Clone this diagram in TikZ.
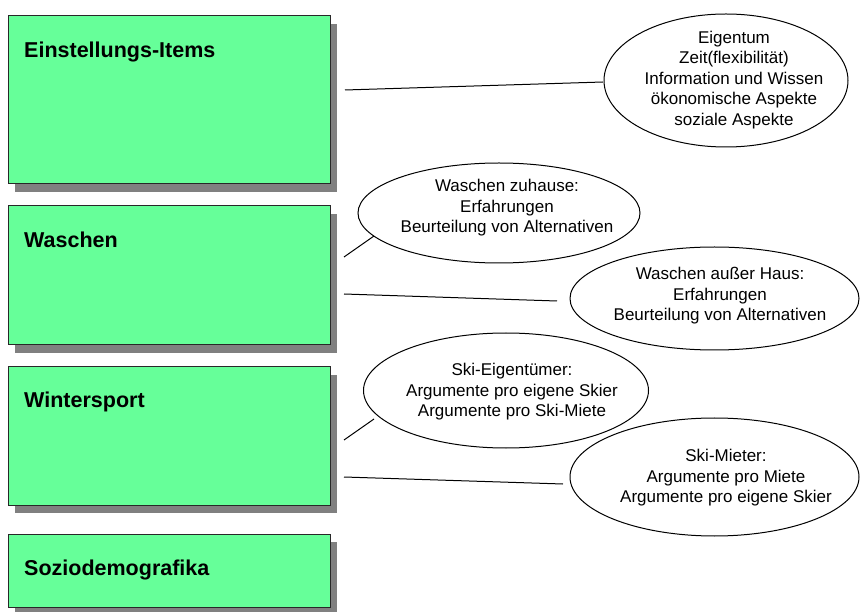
\documentclass[tikz,border=0pt]{standalone}
\usepackage{fontspec}
\setmainfont{Liberation Sans}
\usetikzlibrary{shapes.geometric}
\definecolor{boxgreen}{RGB}{102,255,153}
\definecolor{shadowgray}{RGB}{128,128,128}
\definecolor{boxline}{RGB}{40,40,40}
\begin{document}
\begin{tikzpicture}[x=1pt,y=-1pt,
  catbox/.style={draw=boxline, line width=1pt, fill=boxgreen},
  catshadow/.style={fill=shadowgray},
  catlabel/.style={anchor=base west, inner sep=0pt, font=\bfseries\fontsize{21.5}{26}\selectfont},
  oval/.style={ellipse, draw=black, line width=1pt, inner sep=0pt},
  ovaltext/.style={align=center, inner sep=0pt, font=\fontsize{17}{20.5}\selectfont},
  link/.style={draw=black, line width=1pt}]
\useasboundingbox (0,0) rectangle (860,612);
\fill[white] (0,0) rectangle (860,612);

% boxes with shadows
\fill[catshadow] (15,24) rectangle (337,192);
\draw[catbox] (8,16) rectangle (330,184);
\node[catlabel] (b1) at (24,58) {Einstellungs-Items};

\fill[catshadow] (15,214) rectangle (337,353);
\draw[catbox] (8,206) rectangle (330,345);
\node[catlabel] (b2) at (24,248) {Waschen};

\fill[catshadow] (15,375) rectangle (337,513);
\draw[catbox] (8,367) rectangle (330,505);
\node[catlabel] (b3) at (24,408) {Wintersport};

\fill[catshadow] (15,542) rectangle (337,615);
\draw[catbox] (8,534) rectangle (330,607);
\node[catlabel] (b4) at (24,575) {Soziodemografika};

% ellipses
\node[oval, minimum width=244pt, minimum height=133pt] (e1) at (726,80.5) {};
\node[ovaltext] (t1) at (734,80) {Eigentum\\Zeit(flexibilität)\\Information und Wissen\\ökonomische Aspekte\\soziale Aspekte};

\node[oval, minimum width=282pt, minimum height=100pt] (e2) at (499,213) {};
\node[ovaltext] (t2) at (507,208) {Waschen zuhause:\\Erfahrungen\\Beurteilung von Alternativen};

\node[oval, minimum width=289pt, minimum height=103pt] (e3) at (714.5,298.5) {};
\node[ovaltext] (t3) at (720,296) {Waschen außer Haus:\\Erfahrungen\\Beurteilung von Alternativen};

\node[oval, minimum width=285pt, minimum height=115pt] (e4) at (506,390.5) {};
\node[ovaltext] (t4) at (512,392) {Ski-Eigentümer:\\Argumente pro eigene Skier\\Argumente pro Ski-Miete};

\node[oval, minimum width=289pt, minimum height=118pt] (e5) at (714.5,477) {};
\node[ovaltext] (t5) at (726,478) {Ski-Mieter:\\Argumente pro Miete\\Argumente pro eigene Skier};

% connector end points
\coordinate (l1a) at (345,90);  \coordinate (l1b) at (603,82);
\coordinate (l2a) at (344,257); \coordinate (l2b) at (374,236);
\coordinate (l3a) at (344,294); \coordinate (l3b) at (557,301);
\coordinate (l4a) at (344,440); \coordinate (l4b) at (374,419);
\coordinate (l5a) at (344,477); \coordinate (l5b) at (563,484);

\draw[link] (l1a) -- (l1b);
\draw[link] (l2a) -- (l2b);
\draw[link] (l3a) -- (l3b);
\draw[link] (l4a) -- (l4b);
\draw[link] (l5a) -- (l5b);
\end{tikzpicture}
\end{document}
